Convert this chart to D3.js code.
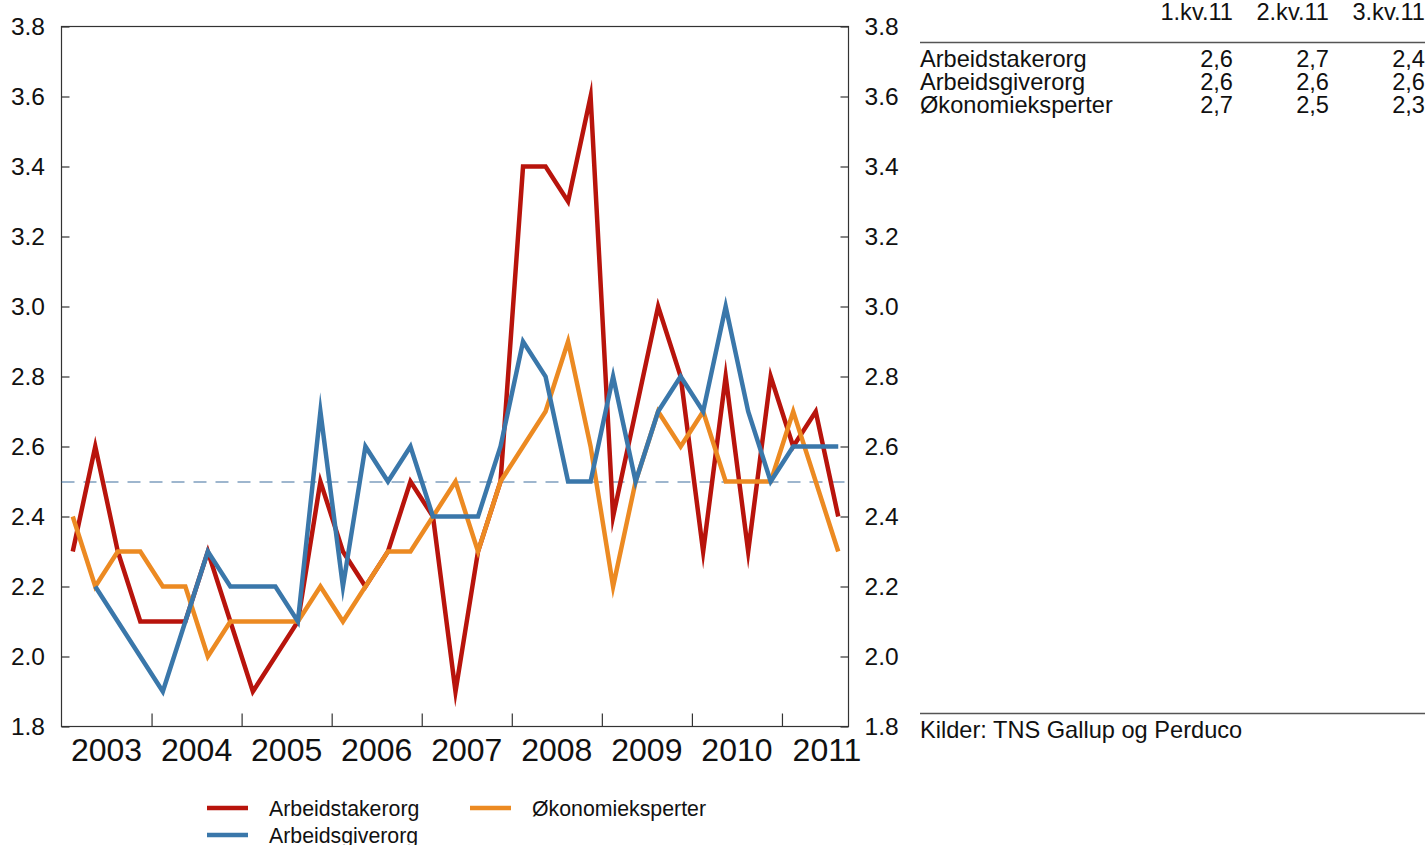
<!DOCTYPE html>
<html>
<head>
<meta charset="utf-8">
<script src="https://cdn.jsdelivr.net/npm/d3@7"></script>
<style>
  html, body { margin: 0; padding: 0; background: #fff; }
  svg { display: block; font-family: "Liberation Sans", Arial, sans-serif; }
</style>
</head>
<body>
<svg id="chart" width="1427" height="845"></svg>
<script>
// Quarterly expectations, 2003 Q1 – 2011 Q3
const startYear = 2003;
const seriesNames = ["Arbeidstakerorg", "Arbeidsgiverorg", "Økonomieksperter"];
const seriesColors = ["#b8140c", "#3a77aa", "#ec8a22"];

const arbeidstakerorg = [2.3, 2.6, 2.3, 2.1, 2.1, 2.1, 2.3, 2.1, 1.9, 2.0, 2.1, 2.5,
  2.3, 2.2, 2.3, 2.5, 2.4, 1.9, 2.3, 2.5, 3.4, 3.4, 3.3, 3.6,
  2.4, 2.7, 3.0, 2.8, 2.3, 2.8, 2.3, 2.8, 2.6, 2.7, 2.4];
const arbeidsgiverorg = [null, 2.2, 2.1, 2.0, 1.9, 2.1, 2.3, 2.2, 2.2, 2.2, 2.1, 2.7,
  2.2, 2.6, 2.5, 2.6, 2.4, 2.4, 2.4, 2.6, 2.9, 2.8, 2.5, 2.5,
  2.8, 2.5, 2.7, 2.8, 2.7, 3.0, 2.7, 2.5, 2.6, 2.6, 2.6];
const okonomieksperter = [2.4, 2.2, 2.3, 2.3, 2.2, 2.2, 2.0, 2.1, 2.1, 2.1, 2.1, 2.2,
  2.1, 2.2, 2.3, 2.3, 2.4, 2.5, 2.3, 2.5, 2.6, 2.7, 2.9, 2.6,
  2.2, 2.5, 2.7, 2.6, 2.7, 2.5, 2.5, 2.5, 2.7, 2.5, 2.3];

const yearLabels = ["2003", "2004", "2005", "2006", "2007", "2008", "2009", "2010", "2011"];
const yTicks = [1.8, 2.0, 2.2, 2.4, 2.6, 2.8, 3.0, 3.2, 3.4, 3.6, 3.8];
const referenceLevel = 2.5;

// Table of the latest three surveys
const tableHeaders = ["1.kv.11", "2.kv.11", "3.kv.11"];
const tableRows = [
  ["Arbeidstakerorg", "2,6", "2,7", "2,4"],
  ["Arbeidsgiverorg", "2,6", "2,6", "2,6"],
  ["Økonomieksperter", "2,7", "2,5", "2,3"]
];
const sourceText = "Kilder: TNS Gallup og Perduco";

const svg = d3.select("#chart");
const plotLeft = 61.5, plotRight = 848.5, plotTop = 26.5, plotBottom = 726.5;

const x = d3.scaleLinear().domain([startYear, startYear + 8.75]).range([plotLeft, plotRight + 1]);
const y = d3.scaleLinear().domain([1.8, 3.8]).range([plotBottom, plotTop]);

// quarter midpoints on the time axis
const xOf = i => x(startYear + (i + 0.5) / 4);

// plot frame
svg.append("rect")
  .attr("x", plotLeft).attr("y", plotTop)
  .attr("width", plotRight - plotLeft).attr("height", plotBottom - plotTop)
  .attr("fill", "none").attr("stroke", "#333").attr("stroke-width", 1.2);

// left and right value axes with inward ticks
const fmt = d3.format(".1f");
const yLeft = svg.append("g").attr("transform", `translate(${plotLeft},0)`)
  .call(d3.axisLeft(y).tickValues(yTicks).tickFormat(fmt).tickSize(-8).tickPadding(16.5));
const yRight = svg.append("g").attr("transform", `translate(${plotRight},0)`)
  .call(d3.axisRight(y).tickValues(yTicks).tickFormat(fmt).tickSize(-8).tickPadding(16));
[yLeft, yRight].forEach(g => {
  g.select(".domain").remove();
  g.selectAll("line").attr("stroke", "#333").attr("stroke-width", 1.2);
  g.selectAll("text").attr("font-size", 24.5).attr("fill", "#111")
    .attr("font-family", "'Liberation Sans', Arial, sans-serif");
});

// year boundary ticks
const xTicks = svg.append("g").attr("transform", `translate(0,${plotBottom})`)
  .call(d3.axisBottom(x).tickValues(d3.range(startYear + 1, startYear + 9)).tickSize(-13).tickFormat(""));
xTicks.select(".domain").remove();
xTicks.selectAll("line").attr("stroke", "#333").attr("stroke-width", 1.2);

// year labels centred in each year
svg.append("g").selectAll("text").data(yearLabels).join("text")
  .attr("x", (d, i) => x(startYear + i + 0.5))
  .attr("y", 761)
  .attr("text-anchor", "middle")
  .attr("font-size", 32)
  .attr("fill", "#111")
  .text(d => d);

// reference line
svg.append("line")
  .attr("x1", plotLeft).attr("x2", plotRight)
  .attr("y1", y(referenceLevel) + 0.5).attr("y2", y(referenceLevel) + 0.5)
  .attr("stroke", "#3f6f9e").attr("stroke-width", 1.1)
  .attr("stroke-dasharray", "13,9");

// series lines
const line = d3.line()
  .defined(d => d != null)
  .x((d, i) => xOf(i))
  .y(d => y(d));

const series = [arbeidstakerorg, arbeidsgiverorg, okonomieksperter];
const drawOrder = [0, 2, 1];
svg.append("g").selectAll("path").data(drawOrder).join("path")
  .attr("d", k => line(series[k]))
  .attr("fill", "none")
  .attr("stroke", k => seriesColors[k])
  .attr("stroke-width", 4.5)
  .attr("stroke-linejoin", "miter")
  .attr("stroke-miterlimit", 10);

// legend
const legendItems = [
  { k: 0, lx: 207, ty: 808 },
  { k: 1, lx: 207, ty: 835 },
  { k: 2, lx: 470, ty: 808 }
];
const lg = svg.append("g");
lg.selectAll("line").data(legendItems).join("line")
  .attr("x1", d => d.lx).attr("x2", d => d.lx + 41)
  .attr("y1", d => d.ty).attr("y2", d => d.ty)
  .attr("stroke", d => seriesColors[d.k]).attr("stroke-width", 4.5);
lg.selectAll("text").data(legendItems).join("text")
  .attr("x", d => d.lx + 62)
  .attr("y", d => d.ty + 7.5)
  .attr("font-size", 21.3)
  .attr("fill", "#111")
  .text(d => seriesNames[d.k]);

// side table
const tbl = svg.append("g").attr("font-size", 23.6).attr("fill", "#111");
const colRight = [1233, 1329, 1425];
tbl.selectAll("text.h").data(tableHeaders).join("text")
  .attr("class", "h")
  .attr("x", (d, i) => colRight[i]).attr("y", 20)
  .attr("text-anchor", "end")
  .text(d => d);
tbl.append("line")
  .attr("x1", 920).attr("x2", 1425).attr("y1", 42.5).attr("y2", 42.5)
  .attr("stroke", "#555").attr("stroke-width", 1.5);
tableRows.forEach((row, r) => {
  const ty = 66.5 + r * 23;
  tbl.append("text").attr("x", 920).attr("y", ty).text(row[0]);
  row.slice(1).forEach((v, c) => {
    tbl.append("text").attr("x", colRight[c]).attr("y", ty)
      .attr("text-anchor", "end").text(v);
  });
});
tbl.append("line")
  .attr("x1", 920).attr("x2", 1425).attr("y1", 713.5).attr("y2", 713.5)
  .attr("stroke", "#555").attr("stroke-width", 1.5);
tbl.append("text").attr("x", 920).attr("y", 737.5).text(sourceText);
</script>
</body>
</html>
